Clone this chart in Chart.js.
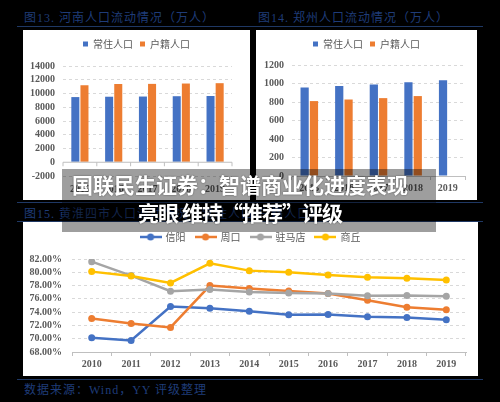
<!DOCTYPE html>
<html>
<head>
<meta charset="utf-8">
<script src="https://cdn.jsdelivr.net/npm/chart.js@4.4.1/dist/chart.umd.min.js"></script>
<style>
  body { margin: 0; background: #000; width: 500px; height: 402px; overflow: hidden; position: relative; font-family: "Liberation Serif", "Noto Sans CJK SC", serif; }
  .title { position: absolute; color: #1f3c78; font-size: 12px; letter-spacing: 1px; white-space: nowrap; }
  .rule { position: absolute; height: 1px; background: #1f3864; }
  .panel { position: absolute; background: #fff; }
  .banner { position: absolute; left: 62px; top: 169px; width: 374px; height: 63px; background: rgba(0,0,0,0.38); }
  .banner div { position: absolute; left: 0; width: 356px; text-align: center; color: #fff; font-family: "Noto Sans CJK SC", sans-serif; font-weight: bold; font-size: 21px; white-space: nowrap; text-shadow: 0 0 2px rgba(0,0,0,0.5); }
</style>
</head>
<body>
<div class="title" style="left:24px;top:8px">图13. 河南人口流动情况（万人）</div>
<div class="title" style="left:258px;top:8px">图14. 郑州人口流动情况（万人）</div>
<div class="rule" style="left:17px;top:26px;width:466px"></div>

<div class="panel" style="left:23px;top:30px;width:227px;height:170px"><canvas id="henan"></canvas></div>
<div class="panel" style="left:256px;top:30px;width:221px;height:170px"><canvas id="zhengzhou"></canvas></div>

<div class="rule" style="left:17px;top:202px;width:466px"></div>
<div class="title" style="left:24px;top:204px">图15. 黄淮四市人口流动情况（常住人口/户籍人口）</div>
<div class="rule" style="left:17px;top:221px;width:466px"></div>

<div class="panel" style="left:23px;top:222px;width:455px;height:154px"><canvas id="huanghuai"></canvas></div>

<div class="rule" style="left:17px;top:379px;width:466px"></div>
<div class="title" style="left:24px;top:380px">数据来源：Wind，YY 评级整理</div>

<div class="banner">
  <div style="top:0px">国联民生证券：智谱商业化进度表现</div>
  <div style="top:28px;letter-spacing:-1px">亮眼 维持“推荐”评级</div>
</div>

<script>
// Data
const barYears = ["2015", "2016", "2017", "2018", "2019"];
const henanResident = [9480, 9532, 9559, 9605, 9640];
const henanHukou = [11200, 11380, 11400, 11450, 11500];
const zzResident = [957, 972, 988, 1014, 1035];
const zzHukou = [810, 827, 842, 864, null];

const lineYears = ["2010", "2011", "2012", "2013", "2014", "2015", "2016", "2017", "2018", "2019"];
const xinyang = [70.15, 69.75, 74.85, 74.6, 74.15, 73.6, 73.65, 73.3, 73.2, 72.85];
const zhoukou = [73.05, 72.3, 71.7, 78.0, 77.55, 77.2, 76.8, 75.8, 74.75, 74.35];
const zhumadian = [81.6, 79.5, 77.15, 77.4, 77.05, 76.9, 76.8, 76.45, 76.5, 76.4];
const shangqiu = [80.1, 79.45, 78.4, 81.35, 80.25, 80.0, 79.6, 79.25, 79.1, 78.85];

const BLUE = "#4472c4", ORANGE = "#ed7d31", GRAY = "#a5a5a5", YELLOW = "#ffc000";
const tickFont = { family: '"Liberation Serif", serif', size: 10, weight: "bold" };
const legendFont = { family: '"Noto Sans CJK SC", sans-serif', size: 10 };

Chart.defaults.color = "#595959";
Chart.defaults.animation = false;

// solid axis line at zero with small tick marks (Henan chart goes below 0)
const zeroAxis = {
  id: "zeroAxis",
  afterDatasetsDraw(chart) {
    const { ctx, chartArea, scales } = chart;
    const y0 = scales.y.getPixelForValue(0);
    const n = chart.data.labels.length;
    ctx.save();
    ctx.strokeStyle = "#bfbfbf";
    ctx.lineWidth = 1;
    ctx.beginPath();
    ctx.moveTo(chartArea.left, y0);
    ctx.lineTo(chartArea.right, y0);
    for (let i = 0; i <= n; i++) {
      const x = chartArea.left + (chartArea.right - chartArea.left) * i / n;
      ctx.moveTo(x, y0);
      ctx.lineTo(x, y0 + 4);
    }
    ctx.stroke();
    ctx.restore();
  },
};

// extra space between legend and plot
const legendGap = {
  id: "legendGap",
  beforeLayout(chart, args, opts) {
    const legend = chart.legend;
    if (!legend || legend._gapDone) return;
    const fit = legend.fit;
    legend.fit = function () {
      fit.call(this);
      this.height += opts.gap || 0;
    };
    legend._gapDone = true;
  },
};

// empty right-hand axis, keeps the legend centred on the full panel
function rightPad(w) {
  return {
    type: "linear",
    position: "right",
    grid: { display: false },
    border: { display: false },
    ticks: { display: false },
    afterFit: (s) => { s.width = w; },
  };
}

function barOptions(yMin, yMax, step, yWidth, padRight, xGridOn, legendTop, gap) {
  return {
    responsive: true,
    maintainAspectRatio: false,
    layout: { padding: { top: legendTop, right: 0, bottom: 0, left: 0 } },
    plugins: {
      legend: {
        labels: { font: legendFont, boxWidth: 5, boxHeight: 5, padding: 7 },
      },
      legendGap: { gap: gap },
      tooltip: { enabled: false },
    },
    scales: {
      x: {
        grid: { display: xGridOn, drawOnChartArea: false, offset: true, tickLength: 4, color: "#bfbfbf" },
        border: { display: xGridOn, color: "#bfbfbf" },
        ticks: { font: tickFont, padding: xGridOn ? 2 : 3 },
        afterFit: (s) => { s.height = 24; },
      },
      y: {
        min: yMin,
        max: yMax,
        ticks: { stepSize: step, font: tickFont, padding: 8, autoSkip: false, callback: (v) => String(v) },
        grid: {
          drawTicks: false,
          color: (c) => (c.tick.value === 0 ? "transparent" : "#d9d9d9"),
        },
        border: { display: false, dash: [3, 3] },
        afterFit: (s) => { s.width = yWidth; },
      },
      pad: rightPad(padRight),
    },
  };
}

const henanChart = new Chart(document.getElementById("henan"), {
  type: "bar",
  data: {
    labels: barYears,
    datasets: [
      { label: "常住人口", data: henanResident, backgroundColor: BLUE, barPercentage: 0.88, categoryPercentage: 0.54 },
      { label: "户籍人口", data: henanHukou, backgroundColor: ORANGE, barPercentage: 0.88, categoryPercentage: 0.54 },
    ],
  },
  options: barOptions(-2000, 14000, 2000, 40, 18, false, 2, 7),
  plugins: [zeroAxis, legendGap],
});

const zzChart = new Chart(document.getElementById("zhengzhou"), {
  type: "bar",
  data: {
    labels: barYears,
    datasets: [
      { label: "常住人口", data: zzResident, backgroundColor: BLUE, barPercentage: 0.88, categoryPercentage: 0.54 },
      { label: "户籍人口", data: zzHukou, backgroundColor: ORANGE, barPercentage: 0.88, categoryPercentage: 0.54 },
    ],
  },
  options: barOptions(0, 1200, 200, 36, 12, true, 2, 6),
  plugins: [legendGap],
});

// legend marker: short line with a dot, like the Excel legend
function lineMarker(color) {
  const c = document.createElement("canvas");
  c.width = 22;
  c.height = 8;
  const g = c.getContext("2d");
  g.strokeStyle = color;
  g.lineWidth = 2.5;
  g.beginPath();
  g.moveTo(0, 4);
  g.lineTo(22, 4);
  g.stroke();
  g.fillStyle = color;
  g.beginPath();
  g.arc(11, 4, 3.5, 0, Math.PI * 2);
  g.fill();
  return c;
}

function lineSet(label, data, color, order) {
  return {
    label: label,
    data: data,
    borderColor: color,
    backgroundColor: color,
    borderWidth: 2.5,
    pointRadius: 3.5,
    pointBackgroundColor: color,
    pointBorderWidth: 0,
    order: order,
  };
}

const huanghuaiChart = new Chart(document.getElementById("huanghuai"), {
  type: "line",
  data: {
    labels: lineYears,
    datasets: [
      lineSet("信阳", xinyang, BLUE, 4),
      lineSet("周口", zhoukou, ORANGE, 3),
      lineSet("驻马店", zhumadian, GRAY, 2),
      lineSet("商丘", shangqiu, YELLOW, 1),
    ],
  },
  options: {
    responsive: true,
    maintainAspectRatio: false,
    layout: { padding: { top: 0, right: 0, bottom: 0, left: 0 } },
    plugins: {
      legend: {
        labels: {
          font: legendFont,
          usePointStyle: true,
          pointStyleWidth: 20,
          padding: 10,
          sort: (a, b) => a.datasetIndex - b.datasetIndex,
          generateLabels: (chart) => {
            const items = Chart.defaults.plugins.legend.labels.generateLabels(chart);
            items.forEach((it) => {
              it.pointStyle = lineMarker(chart.data.datasets[it.datasetIndex].borderColor);
            });
            return items;
          },
        },
      },
      legendGap: { gap: 7 },
      tooltip: { enabled: false },
    },
    scales: {
      x: {
        offset: true,
        grid: { drawOnChartArea: false, offset: true, tickLength: 4, color: "#bfbfbf" },
        border: { color: "#bfbfbf" },
        ticks: { font: tickFont, padding: 2 },
        afterFit: (s) => { s.height = 24; },
      },
      y: {
        min: 68,
        max: 82,
        ticks: { stepSize: 2, font: tickFont, padding: 10, autoSkip: false, callback: (v) => v.toFixed(2) + "%" },
        grid: { drawTicks: false, color: "#d9d9d9" },
        border: { display: false, dash: [3, 3] },
        afterFit: (s) => { s.width = 49; },
      },
      pad: rightPad(12),
    },
  },
  plugins: [legendGap],
});
</script>
</body>
</html>
